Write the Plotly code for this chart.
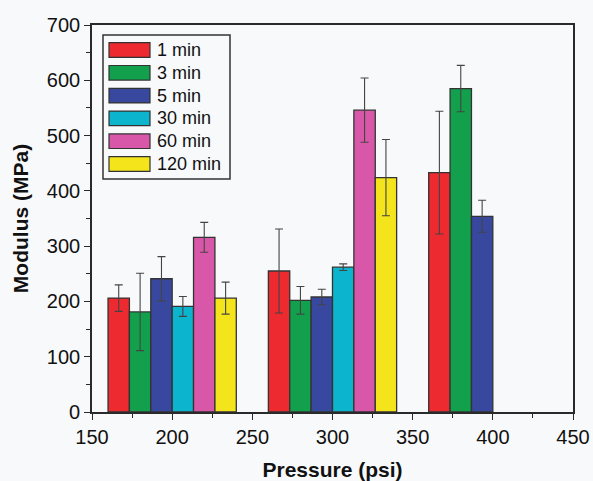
import plotly.graph_objects as go

# ---- data ----
pressures = [200, 300, 400]
series_names = ["1 min", "3 min", "5 min", "30 min", "60 min", "120 min"]
mod_1min = [206, 255, 433]
mod_3min = [181, 202, 585]
mod_5min = [241, 208, 354]
mod_30min = [191, 262, None]
mod_60min = [316, 546, None]
mod_120min = [206, 424, None]
err_1min = [24, 76, 111]
err_3min = [70, 25, 42]
err_5min = [40, 14, 29]
err_30min = [18, 6, None]
err_60min = [27, 58, None]
err_120min = [29, 69, None]

values = [mod_1min, mod_3min, mod_5min, mod_30min, mod_60min, mod_120min]
errors = [err_1min, err_3min, err_5min, err_30min, err_60min, err_120min]
colors = ["#ec2a30", "#13a04d", "#38489e", "#0cb4cd", "#d857a8", "#f4e41c"]

FONT = "Liberation Sans, Arial, sans-serif"
AX = "#2a2a2a"

fig = go.Figure()
for name, v, e, c in zip(series_names, values, errors, colors):
    fig.add_trace(go.Bar(
        x=pressures, y=v, name=name,
        marker=dict(color=c, line=dict(color="#333333", width=1.3)),
        error_y=dict(type="data", array=e, visible=True, color="#444444",
                     thickness=1.1, width=4),
        showlegend=False,
    ))

# ---- manual legend (paper coords) ----
def py2paper(py):
    return (412 - py) / 387.0

def px2paper(px):
    return (px - 92) / 481.0

shapes = [dict(type="rect", xref="paper", yref="paper",
               x0=px2paper(103), x1=px2paper(230), y0=py2paper(179), y1=py2paper(35),
               line=dict(color="#333333", width=1.5), fillcolor="rgba(0,0,0,0)")]
annotations = []
for i, (name, c) in enumerate(zip(series_names, colors)):
    cy = 50 + 22.8 * i
    shapes.append(dict(type="rect", xref="paper", yref="paper",
                       x0=px2paper(109), x1=px2paper(150),
                       y0=py2paper(cy + 7.3), y1=py2paper(cy - 7.3),
                       line=dict(color="#333333", width=1.2), fillcolor=c))
    annotations.append(dict(xref="paper", yref="paper", x=px2paper(155), y=py2paper(cy),
                            text=name, showarrow=False, xanchor="left", yanchor="middle",
                            font=dict(family=FONT, size=18, color="#111111")))

fig.update_layout(
    width=593, height=481,
    margin=dict(l=92, r=20, t=25, b=69),
    barmode="group", bargap=0.2, bargroupgap=0,
    paper_bgcolor="#f8f9fb", plot_bgcolor="#f8f9fb",
    font=dict(family=FONT, size=20, color="#111111"),
    shapes=shapes, annotations=annotations,
    xaxis=dict(range=[150, 450], dtick=50, tick0=150, ticks="outside", ticklen=6,
               tickwidth=1.3, tickcolor=AX, showline=True, linecolor=AX, linewidth=1.6,
               mirror=True, showgrid=False, zeroline=False, automargin=False,
               minor=dict(dtick=25, tick0=150, ticks="outside", ticklen=4, tickcolor=AX, showgrid=False),
               tickfont=dict(size=20),
               title=dict(text="<b>Pressure (psi)</b>", font=dict(size=21), standoff=16)),
    yaxis=dict(range=[0, 700], dtick=100, ticks="outside", ticklen=6,
               tickwidth=1.3, tickcolor=AX, showline=True, linecolor=AX, linewidth=1.6,
               mirror=True, showgrid=False, zeroline=False, automargin=False,
               minor=dict(dtick=50, ticks="outside", ticklen=4, tickcolor=AX, showgrid=False),
               tickfont=dict(size=20),
               title=dict(text="<b>Modulus (MPa)</b>", font=dict(size=21), standoff=12)),
)

fig.write_html("out.html")
